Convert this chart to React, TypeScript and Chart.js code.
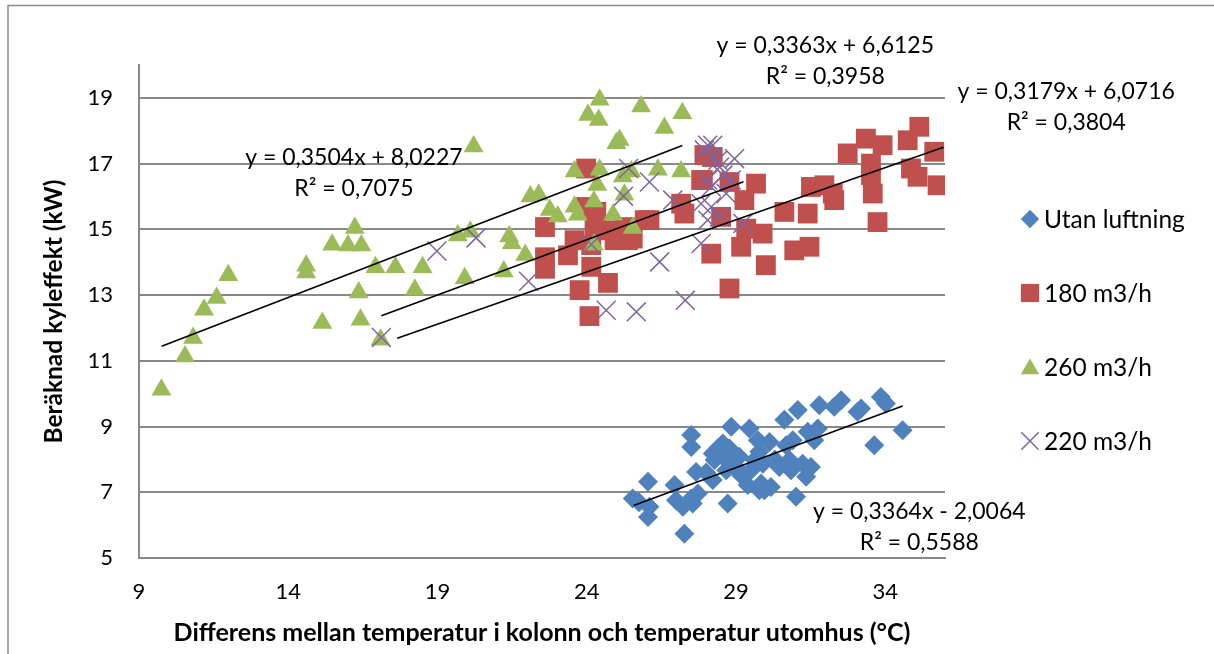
import React, { useEffect, useRef } from "react";
import { Chart, registerables } from "chart.js";

Chart.register(...registerables);

// ---------- DATA ----------
const seriesNames = ["Utan luftning", "180 m3/h", "260 m3/h", "220 m3/h"];

const utanLuftning: [number, number][] = [
  [25.54, 6.81], [25.75, 6.7], [26.05, 7.32], [26.1, 6.56], [26.05, 6.25], [26.94, 7.22], [26.99, 6.76],
  [27.27, 5.74], [27.22, 6.56], [27.5, 8.74], [27.5, 8.38], [27.55, 6.66], [27.72, 6.96], [27.66, 7.62],
  [27.5, 6.81], [28.0, 7.6], [28.22, 7.37], [28.28, 7.98], [28.22, 8.18], [28.39, 8.33], [28.56, 8.48],
  [28.67, 7.98], [28.67, 7.67], [28.72, 6.66], [28.84, 8.99], [28.78, 8.33], [28.89, 8.13], [29.0, 7.77],
  [29.11, 8.08], [29.17, 7.52], [29.39, 7.22], [29.45, 8.94], [29.5, 7.67], [29.62, 7.98], [29.73, 8.58],
  [29.78, 8.23], [29.78, 7.06], [29.84, 7.27], [29.9, 7.87], [29.95, 7.06], [30.12, 8.53], [30.17, 7.16],
  [30.3, 8.0], [30.45, 7.77], [30.62, 9.21], [30.68, 8.43], [30.79, 7.98], [30.84, 7.67], [30.9, 8.58],
  [31.01, 6.86], [31.07, 9.5], [31.23, 7.87], [31.35, 7.47], [31.4, 8.84], [31.51, 7.77], [31.62, 8.58],
  [31.74, 8.94], [31.79, 9.65], [32.29, 9.6], [32.52, 9.8], [33.07, 9.45], [33.19, 9.55], [33.63, 8.43],
  [33.85, 9.9], [34.02, 9.7], [34.58, 8.89],
];

const flow180: [number, number][] = [
  [22.6, 15.07], [22.6, 14.15], [22.6, 13.8], [23.37, 14.21], [23.59, 14.67], [23.98, 16.85], [23.98, 15.68],
  [24.32, 15.53], [24.15, 14.52], [24.15, 13.86], [23.76, 13.15], [24.09, 12.36], [24.71, 13.37], [24.26, 15.07],
  [24.76, 14.97], [24.93, 14.67], [25.27, 15.07], [25.38, 14.67], [25.54, 14.72], [25.94, 15.28], [26.1, 15.28],
  [27.16, 15.78], [27.27, 15.48], [27.83, 16.5], [27.89, 16.5], [27.94, 17.26], [28.22, 17.2], [28.17, 14.26],
  [28.78, 16.44], [28.78, 13.2], [28.5, 15.38], [29.17, 14.47], [29.28, 15.89], [29.34, 15.02], [29.67, 16.39],
  [29.89, 14.87], [30.0, 13.91], [30.62, 15.53], [30.95, 14.36], [31.4, 15.48], [31.46, 14.47], [31.51, 16.29],
  [31.96, 16.34], [32.24, 16.09], [32.29, 15.89], [32.74, 17.31], [33.35, 17.76], [33.52, 17.0], [33.52, 16.65],
  [33.58, 16.09], [33.91, 17.56], [33.74, 15.22], [34.75, 17.71], [35.14, 18.12], [34.86, 16.85], [35.08, 16.6],
  [35.64, 17.36], [35.75, 16.34],
];

const flow260: [number, number][] = [
  [9.75, 10.12], [10.54, 11.13], [10.81, 11.69], [11.18, 12.55], [11.6, 12.91], [11.99, 13.6], [14.6, 13.89],
  [14.6, 13.69], [15.14, 12.15], [15.47, 14.53], [16.23, 15.04], [16.0, 14.51], [16.45, 14.51], [16.36, 13.08],
  [16.42, 12.25], [16.92, 13.85], [17.09, 11.64], [17.59, 13.85], [18.24, 13.16], [18.5, 13.85], [19.68, 14.81],
  [20.1, 14.93], [20.21, 17.52], [19.91, 13.51], [21.4, 14.78], [21.49, 14.58], [21.22, 13.72], [21.94, 14.22],
  [22.11, 16.0], [22.39, 16.05], [22.76, 15.59], [23.03, 15.39], [23.59, 16.76], [23.59, 15.69], [23.7, 15.44],
  [24.04, 18.48], [24.43, 18.94], [24.4, 18.33], [24.43, 16.81], [24.35, 16.35], [24.24, 15.85], [24.24, 14.53],
  [24.88, 15.44], [24.99, 17.62], [25.1, 17.72], [25.21, 16.61], [25.26, 16.05], [25.49, 16.76], [25.54, 15.04],
  [25.82, 18.74], [26.38, 16.81], [26.6, 18.08], [27.16, 16.76], [27.2, 18.53],
];

const flow220: [number, number][] = [
  [17.12, 11.71], [18.98, 14.34], [20.29, 14.74], [22.05, 13.42], [24.15, 14.54], [24.65, 12.54], [25.66, 12.49],
  [26.44, 14.01], [27.3, 12.84], [25.23, 16.01], [25.4, 16.85], [26.1, 16.44], [26.88, 15.89], [27.83, 14.57],
  [27.83, 15.78], [27.94, 17.41], [28.05, 17.56], [28.22, 17.56], [28.17, 17.2], [28.39, 17.1], [28.45, 16.9],
  [28.95, 17.15], [28.05, 16.5], [28.17, 16.29], [28.56, 16.65], [28.84, 16.5], [28.17, 15.68], [28.45, 15.38],
  [28.67, 16.09], [29.23, 15.18], [28.05, 15.28],
];

const trendSlope = [0.3364, 0.3179, 0.3504, 0.3363];
const trendIntercept = [-2.0064, 6.0716, 8.0227, 6.6125];
const trendXStart = [25.57, 17.65, 9.76, 17.12];
const trendXEnd = [34.58, 35.95, 27.2, 29.25];
const trendEquations = ["y = 0,3364x - 2,0064", "y = 0,3179x + 6,0716", "y = 0,3504x + 8,0227", "y = 0,3363x + 6,6125"];
const trendR2 = ["R² = 0,5588", "R² = 0,3804", "R² = 0,7075", "R² = 0,3958"];

const xTicks = [9, 14, 19, 24, 29, 34];
const yTicks = [5, 7, 9, 11, 13, 15, 17, 19];
const xTitle = "Differens mellan temperatur i kolonn och temperatur utomhus (°C)";
const yTitle = "Beräknad kyleffekt (kW)";

// ---------- STYLE / LAYOUT ----------
const W = 1214;
const H = 654;
const FONT = "Lato, 'Open Sans', sans-serif";
const colors = ["#4F81BD", "#C0504D", "#9BBB59", "#8064A2"];
const pointStyles = ["rectRot", "rect", "triangle", "crossRot"];
const pointRadii = [10, 14, 11.5, 13.4];
// label anchors (data coordinates of the baseline centre of the first line)
const labelAnchors: [number, number][] = [[35.14, 6.19], [40.06, 18.97], [16.2, 16.96], [31.99, 20.37]];
const legendRows = [219, 293, 367, 441];
const legendMarkerX = 1030;
const legendTextX = 1044;

function drawMarker(ctx: CanvasRenderingContext2D, style: string, x: number, y: number, r: number, color: string) {
  ctx.save();
  ctx.fillStyle = color;
  ctx.strokeStyle = color;
  ctx.beginPath();
  if (style === "rectRot") {
    ctx.moveTo(x - r, y); ctx.lineTo(x, y - r); ctx.lineTo(x + r, y); ctx.lineTo(x, y + r); ctx.closePath(); ctx.fill();
  } else if (style === "rect") {
    const s = Math.SQRT1_2 * r;
    ctx.rect(x - s, y - s, 2 * s, 2 * s); ctx.fill();
  } else if (style === "triangle") {
    const a = (2 * Math.PI) / 3;
    ctx.moveTo(x, y - r);
    ctx.lineTo(x + Math.sin(a) * r, y - Math.cos(a) * r);
    ctx.lineTo(x + Math.sin(2 * a) * r, y - Math.cos(2 * a) * r);
    ctx.closePath(); ctx.fill();
  } else {
    const o = Math.SQRT1_2 * r;
    ctx.lineWidth = 1.5;
    ctx.moveTo(x - o, y - o); ctx.lineTo(x + o, y + o);
    ctx.moveTo(x + o, y - o); ctx.lineTo(x - o, y + o);
    ctx.stroke();
  }
  ctx.restore();
}

const decorPlugin = {
  id: "decor",
  beforeDraw(chart: any) {
    const ctx = chart.ctx;
    ctx.save();
    ctx.fillStyle = "#ffffff";
    ctx.fillRect(0, 0, chart.width, chart.height);
    ctx.strokeStyle = "#8a8a8a";
    ctx.lineWidth = 1.5;
    ctx.beginPath();
    ctx.moveTo(8, H);
    ctx.lineTo(8, 5.5);
    ctx.lineTo(W, 5.5);
    ctx.stroke();
    ctx.restore();
  },
  afterDraw(chart: any) {
    const ctx = chart.ctx;
    const xs = chart.scales.x;
    const ys = chart.scales.y;
    ctx.save();
    ctx.fillStyle = "#000";
    ctx.font = `23px ${FONT}`;
    ctx.textAlign = "center";
    ctx.textBaseline = "alphabetic";
    labelAnchors.forEach((a, i) => {
      const px = xs.getPixelForValue(a[0]);
      const py = ys.getPixelForValue(a[1]);
      ctx.fillText(trendEquations[i], px, py);
      ctx.fillText(trendR2[i], px, py + 31.5);
    });
    // legend
    ctx.textAlign = "left";
    seriesNames.forEach((name, i) => {
      const y = legendRows[i];
      drawMarker(ctx, pointStyles[i], legendMarkerX, y + (pointStyles[i] === "triangle" ? 2 : 0), pointRadii[i] * 0.92, colors[i]);
      ctx.fillStyle = "#000";
      ctx.font = `24.5px ${FONT}`;
      ctx.fillText(name, legendTextX, y + 8.5);
    });
    ctx.restore();
  },
};

export default function App() {
  const ref = useRef<HTMLCanvasElement | null>(null);
  useEffect(() => {
    document.body.style.margin = "0";
    const seriesData = [utanLuftning, flow180, flow260, flow220];
    const pointSets: any[] = seriesData.map((pts, i) => ({
      label: seriesNames[i],
      data: pts.map(([x, y]) => ({ x, y })),
      pointStyle: pointStyles[i],
      pointRadius: pointRadii[i],
      pointHoverRadius: pointRadii[i],
      backgroundColor: colors[i],
      borderColor: colors[i],
      borderWidth: pointStyles[i] === "crossRot" ? 1.5 : 0,
      showLine: false,
      order: 10 - i,
    }));
    const trendSets: any[] = trendSlope.map((m, i) => ({
      label: "trend" + i,
      data: [trendXStart[i], trendXEnd[i]].map((x) => ({ x, y: m * x + trendIntercept[i] })),
      showLine: true,
      pointRadius: 0,
      borderColor: "#000",
      borderWidth: 1.6,
      fill: false,
      order: 0,
    }));
    const chart = new Chart(ref.current as HTMLCanvasElement, {
      type: "scatter",
      data: { datasets: [...pointSets, ...trendSets] },
      options: {
        responsive: false,
        devicePixelRatio: 1,
        animation: false,
        layout: { padding: { left: 0, top: 65, right: W - 945, bottom: 0 } },
        plugins: { legend: { display: false }, tooltip: { enabled: false } },
        scales: {
          x: {
            type: "linear",
            min: 9,
            max: 36,
            afterBuildTicks: (s: any) => { s.ticks = xTicks.map((v) => ({ value: v })); },
            afterFit: (s: any) => { s.height = H - 558; },
            grid: { display: false, drawTicks: false },
            border: { display: true, color: "#898989", width: 2 },
            ticks: { color: "#000", font: { family: FONT, size: 22 }, padding: 21, maxRotation: 0 },
            title: {
              display: true, text: xTitle, color: "#000",
              font: { family: FONT, size: 25, weight: "bold" },
              padding: { top: 0, bottom: 6 },
            },
          },
          y: {
            type: "linear",
            min: 5,
            max: 20,
            afterBuildTicks: (s: any) => { s.ticks = yTicks.map((v) => ({ value: v })); },
            afterFit: (s: any) => { s.width = 139; },
            grid: { color: "#898989", lineWidth: 2, drawTicks: false },
            border: { display: true, color: "#898989", width: 2 },
            ticks: { color: "#000", font: { family: FONT, size: 22 }, padding: 26 },
            title: {
              display: true, text: yTitle, color: "#000",
              font: { family: FONT, size: 24.5, weight: "bold" },
              padding: { top: 39, bottom: 0 },
            },
          },
        },
      },
      plugins: [decorPlugin],
    } as any);
    return () => chart.destroy();
  }, []);
  return (
    <div style={{ width: W, height: H, position: "relative", background: "#fff" }}>
      <canvas ref={ref} width={W} height={H} style={{ display: "block", width: W, height: H }} />
    </div>
  );
}
